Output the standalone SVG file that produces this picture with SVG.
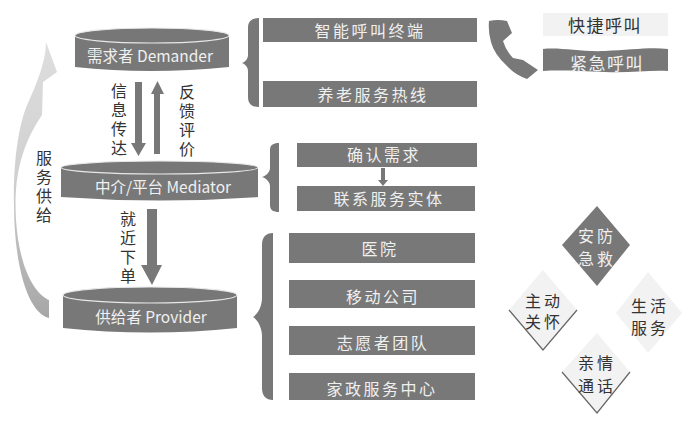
<svg xmlns="http://www.w3.org/2000/svg" width="700" height="422" viewBox="0 0 700 422">
<defs><linearGradient id="curve" x1="0" y1="0" x2="0" y2="1"><stop offset="0" stop-color="#dedede"/><stop offset="0.5" stop-color="#d0d0d0"/><stop offset="1" stop-color="#a6a6a6"/></linearGradient></defs>
<style>
text{font-family:"Noto Sans CJK SC","Liberation Sans",sans-serif;text-anchor:middle}
.w{fill:#f0f0f0;font-size:16px}
.k{fill:#333;font-size:16px}
.b{letter-spacing:2.500px}
.q{font-size:17px;letter-spacing:1.500px}
.c{font-size:15.500px}
.t{letter-spacing:3px}
.d{fill:#787878}
.l{fill:#f2f2f2}
.e{fill:#777;stroke:#e8e8e8;stroke-width:1.2}
.s{fill:none;stroke:#666;stroke-width:1.2}
</style>
<rect width="700" height="422" fill="#fff"/>
<g id="connectors">
<path fill="url(#curve)" d="M49,300C33,293 19,265 16,220C14,185 18,150 42,115L43,82L57,72L46,42C46,62 36,85 28,103C18,125 13,165 14,205C14,260 26,312 49,318Z"/>
<path class="d" d="M135,82H142V143H146L138.500,156L131,143H135Z"/>
<path class="d" d="M154,154V94H151L157.500,81L164,94H160V154Z"/>
<path class="d" d="M147,209H157V265H162L152,285L141,265H147Z"/>
<path class="d" d="M381,168H385V180H388L383,186L378,180H381Z"/>
<path class="d" d="M259,18C252,18 248,21 248,28V55C248,59 245,62 242,63C245,64 248,67 248,71V97C248,104 252,107 259,107Z"/>
<path class="d" d="M279,143C273,143 270,145 270,150V168C270,172 266,176 262,177C266,178 270,182 270,186V205C270,210 273,212 279,212Z"/>
<path class="d" d="M273,233C266,233 262,237 262,245V298C262,306 258,314 253,317C258,320 262,328 262,336V388C262,396 266,400 273,400Z"/>
</g>
<g id="demander"><path class="d" d="M75,35V67Q150,75 229,67V35Z"/><ellipse class="e" cx="152" cy="35.500" rx="77" ry="7.500"/><text class="w c" x="150" y="62">需求者 Demander</text></g>
<g id="mediator"><path class="d" d="M61,168V197Q160,204 258,197V168Z"/><ellipse class="e" cx="159.500" cy="167.500" rx="98.500" ry="6.500"/><text class="w c" x="163" y="193">中介/平台 Mediator</text></g>
<g id="provider"><path class="d" d="M63,295V328Q150,337 237,328V295Z"/><ellipse class="e" cx="150" cy="295" rx="87" ry="8"/><text class="w c" x="151" y="323">供给者 Provider</text></g>
<g id="label-info"><text class="k"><tspan x="119" y="97">信</tspan><tspan x="119" y="115.500">息</tspan><tspan x="119" y="135">传</tspan><tspan x="119" y="153.500">达</tspan></text></g>
<g id="label-feedback"><text class="k"><tspan x="187" y="98">反</tspan><tspan x="187" y="117">馈</tspan><tspan x="187" y="135.500">评</tspan><tspan x="187" y="155">价</tspan></text></g>
<g id="label-service"><text class="k"><tspan x="44" y="164">服</tspan><tspan x="44" y="183">务</tspan><tspan x="44" y="202">供</tspan><tspan x="44" y="221">给</tspan></text></g>
<g id="label-order"><text class="k"><tspan x="128" y="225">就</tspan><tspan x="128" y="244">近</tspan><tspan x="128" y="263">下</tspan><tspan x="128" y="282">单</tspan></text></g>
<g id="terminal"><rect class="d" x="263" y="18" width="214" height="24"/><text class="w b" x="370" y="37">智能呼叫终端</text></g>
<g id="hotline"><rect class="d" x="263" y="81" width="214" height="26"/><text class="w b" x="373" y="101">养老服务热线</text></g>
<g id="confirm"><rect class="d" x="297" y="143" width="180" height="24"/><text class="w b" x="384" y="161">确认需求</text></g>
<g id="contact"><rect class="d" x="297" y="186" width="178" height="25"/><text class="w b" x="389" y="205">联系服务实体</text></g>
<g id="hospital"><rect class="d" x="289" y="233" width="186" height="30"/><text class="w b" x="380" y="255">医院</text></g>
<g id="mobile"><rect class="d" x="289" y="280" width="186" height="28"/><text class="w b" x="383" y="303">移动公司</text></g>
<g id="volunteer"><rect class="d" x="289" y="326" width="186" height="29"/><text class="w b" x="383" y="349">志愿者团队</text></g>
<g id="homecare"><rect class="d" x="289" y="373" width="186" height="27"/><text class="w b" x="382" y="395">家政服务中心</text></g>
<g id="phone"><path class="d" d="M489,21Q498,19 507,21L512,33L503,41Q506,51 513,58L523,60L538,70L527,79Q515,75 507,66Q494,54 491,42Q488,32 489,21Z"/></g>
<g id="quick"><rect class="l" x="543" y="13" width="125" height="23"/><text class="k q" x="605" y="32">快捷呼叫</text></g>
<g id="urgent"><path class="d" d="M543,49C560,47 580,52 605,51C630,50 650,47 668,49V71C650,70 630,73 605,72C580,71 560,70 543,71Z"/><text class="w q" x="607" y="70">紧急呼叫</text></g>
<g id="rescue"><path class="d" d="M597,206L630,245L597,286L562,245Z"/><text class="w t"><tspan x="597" y="242">安防</tspan><tspan x="597" y="265">急救</tspan></text></g>
<g id="care"><path class="l" d="M543,270L577,310L543,350L509,310Z"/><path class="s" d="M509,310L543,350L577,310"/><text class="k t"><tspan x="544" y="307">主动</tspan><tspan x="544" y="328">关怀</tspan></text></g>
<g id="life"><path class="l" d="M648,272L682,313L648,353L616,313Z"/><text class="k t"><tspan x="650" y="312">生活</tspan><tspan x="650" y="334">服务</tspan></text></g>
<g id="family"><path class="l" d="M597,333L630,372L597,413L562,372Z"/><path class="s" d="M562,372L597,413L630,372"/><text class="k t"><tspan x="597" y="369">亲情</tspan><tspan x="597" y="392">通话</tspan></text></g>
</svg>
